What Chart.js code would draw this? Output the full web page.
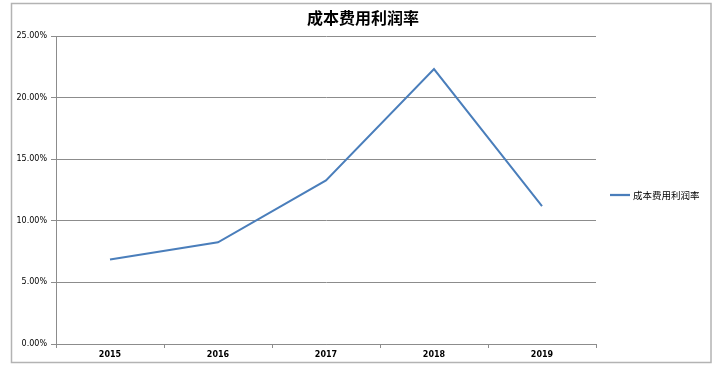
<!DOCTYPE html>
<html>
<head>
<meta charset="utf-8">
<script src="https://cdn.jsdelivr.net/npm/chart.js@4.4.1/dist/chart.umd.min.js"></script>
<style>
html,body{margin:0;padding:0;background:#fff;}
#wrap{width:722px;height:370px;position:relative;}
</style>
</head>
<body>
<div id="wrap"><canvas id="c" width="722" height="370"></canvas></div>
<script>
const categories = ['2015', '2016', '2017', '2018', '2019'];
const seriesName = '成本费用利润率';
const values = [6.85, 8.25, 13.28, 22.32, 11.2];
const titleText = '成本费用利润率';

const decor = {
  id: 'decor',
  afterDraw(chart) {
    const ctx = chart.ctx;
    ctx.save();
    // outer frame
    ctx.strokeStyle = '#b3b3b3';
    ctx.lineWidth = 1.5;
    ctx.strokeRect(11.5, 3.5, 699.5, 359);
    // title
    ctx.fillStyle = '#000';
    ctx.font = 'bold 16px "Noto Sans CJK SC"';
    ctx.textAlign = 'center';
    ctx.textBaseline = 'middle';
    ctx.fillText(titleText, 363, 18);
    // legend
    const ds = chart.data.datasets[0];
    ctx.strokeStyle = ds.borderColor;
    ctx.lineWidth = 2.25;
    ctx.beginPath();
    ctx.moveTo(610, 195);
    ctx.lineTo(630, 195);
    ctx.stroke();
    ctx.fillStyle = '#000';
    ctx.font = '9.5px "Noto Sans CJK SC"';
    ctx.textAlign = 'left';
    ctx.fillText(ds.label, 633, 195);
    ctx.restore();
  }
};

new Chart(document.getElementById('c'), {
  type: 'line',
  data: {
    labels: categories,
    datasets: [{
      label: seriesName,
      data: values,
      borderColor: '#4a7ebb',
      borderWidth: 2,
      pointRadius: 0,
      tension: 0,
      fill: false
    }]
  },
  options: {
    responsive: false,
    animation: false,
    layout: { padding: { left: 0, right: 126, top: 36, bottom: 0 } },
    plugins: { legend: { display: false }, title: { display: false }, tooltip: { enabled: false } },
    scales: {
      x: {
        offset: true,
        grid: { offset: true, drawOnChartArea: false, drawTicks: true, tickLength: 4, color: '#8c8c8c' },
        border: { display: true, color: '#8c8c8c', width: 1 },
        ticks: { color: '#000', padding: 2, font: { family: 'DejaVu Sans', size: 8, weight: 'bold' }, maxRotation: 0 },
        afterFit(s) { s.height = 26; }
      },
      y: {
        min: 0, max: 25,
        grid: { color: '#8c8c8c', tickLength: 5, drawTicks: true },
        border: { display: true, color: '#8c8c8c', width: 1 },
        ticks: {
          stepSize: 5, color: '#000', padding: 4,
          font: { family: 'DejaVu Sans', size: 8 },
          callback: v => v.toFixed(2) + '%'
        },
        afterFit(s) { s.width = 56; }
      }
    }
  },
  plugins: [decor]
});
</script>
</body>
</html>
